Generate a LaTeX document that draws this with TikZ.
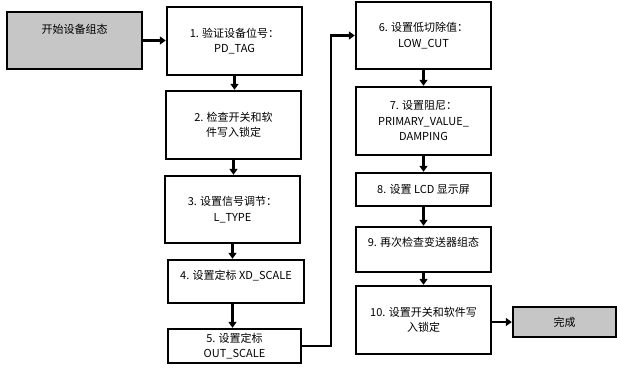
\documentclass[tikz,border=0pt]{standalone}
\usepackage{fontspec}
\setmainfont{Noto Sans CJK SC}
\usetikzlibrary{arrows.meta}
\begin{document}
\begin{tikzpicture}[x=1pt,y=-1pt,
  box/.style={draw=black,line width=2.4pt,fill=white,minimum width=#1,inner sep=0pt},
  gbox/.style={box=#1,fill=gray!45},
  txt/.style={font=\fontsize{11}{15.5}\selectfont,align=center,inner sep=0pt},
  arr/.style={line width=2.2pt,-{Triangle[length=6pt,width=8pt]}},
  lin/.style={line width=2.2pt}]
\useasboundingbox (0,0) rectangle (617,368);
% boxes
\node[gbox=135pt,minimum height=57pt] (start) at (74.5,40.5) {};
\node[txt] (starttxt) at (74.5,29) {开始设备组态};
\node[box=135pt,minimum height=68pt,txt] (b1) at (234.5,41) {1. 验证设备位号：\\PD\_TAG};
\node[box=135pt,minimum height=68pt,txt] (b2) at (233.5,125) {2. 检查开关和软\\件写入锁定};
\node[box=135pt,minimum height=67pt,txt] (b3) at (232.5,209.5) {3. 设置信号调节：\\L\_TYPE};
\node[box=136pt,minimum height=43pt] (b4) at (236,281.5) {};
\node[txt] (b4txt) at (236,276) {4. 设置定标 XD\_SCALE};
\node[box=133pt,minimum height=34pt,txt] (b5) at (234.5,346) {5. 设置定标\\OUT\_SCALE};
\node[box=135pt,minimum height=67pt,txt] (b6) at (423.5,35.5) {6. 设置低切除值：\\LOW\_CUT};
\node[box=135pt,minimum height=68pt,txt] (b7) at (423.5,121) {7. 设置阻尼：\\PRIMARY\_VALUE\_\\DAMPING};
\node[box=135pt,minimum height=33pt,txt] (b8) at (423.5,189.5) {8. 设置 LCD 显示屏};
\node[box=135pt,minimum height=45pt] (b9) at (423.5,249.5) {};
\node[txt] (b9txt) at (423.5,242) {9. 再次检查变送器组态};
\node[box=135pt,minimum height=68pt,txt] (b10) at (423.5,320) {10. 设置开关和软件写\\入锁定};
\node[gbox=103pt,minimum height=30pt,txt] (done) at (564.5,322) {完成};
% connectors
\coordinate (turn) at (331,200);
\draw[arr] (start.east) -- (b1.west |- start.east);
\draw[arr] (b1.south) -- (b1.south |- b2.north);
\draw[arr] (b2.south) -- (b2.south |- b3.north);
\draw[arr] (b3.south) -- (b3.south |- b4.north);
\draw[arr] (b3.south |- b4.south) -- (b3.south |- b5.north);
\draw[arr] (b5.east) -| (turn) |- (b6.west);
\draw[arr] (b6.south) -- (b6.south |- b7.north);
\draw[arr] (b7.south) -- (b7.south |- b8.north);
\draw[arr] (b8.south) -- (b8.south |- b9.north);
\draw[arr] (b9.south) -- (b9.south |- b10.north);
\draw[arr] (b10.east |- done.west) -- (done.west);
\end{tikzpicture}
\end{document}
